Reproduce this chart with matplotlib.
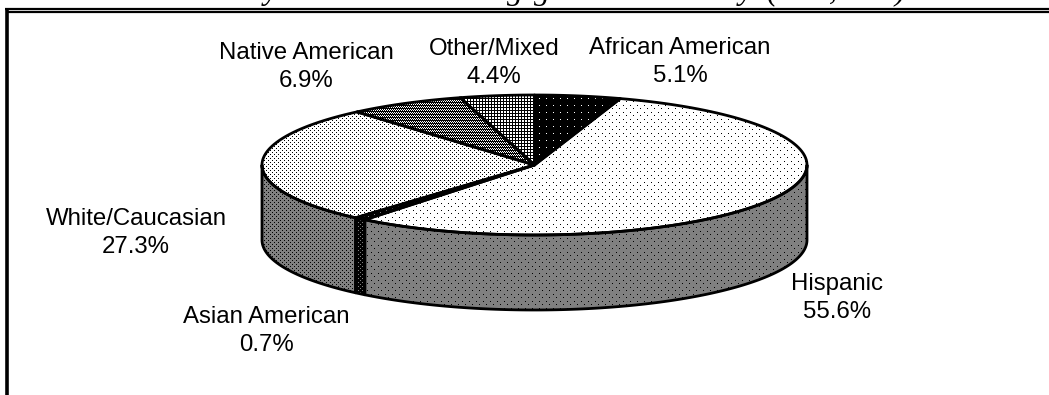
import numpy as np
import matplotlib
matplotlib.use('Agg')
import matplotlib.pyplot as plt
from matplotlib.patches import Polygon

categories = ['African American', 'Hispanic', 'Asian American',
              'White/Caucasian', 'Native American', 'Other/Mixed']
percent = [5.1, 55.6, 0.7, 27.3, 6.9, 4.4]

W, H = 1049, 395
CX, CY, RX, RY, DEPTH = 534.5, 165, 272.5, 70, 75

label_xy = [(680, 62), (837, 298), (266, 331), (136, 233), (306, 67), (494, 63)]

# fragments of the heading that stay on the page, the rest runs off the top
title_bits = ['y', 'g', 'g', 'y', '(', ',', ')']
title_x = [271, 515, 542, 746, 772, 833, 900]


def dots(bg, fg, step, stagger=True):
    # dot screen, one pixel dots on a plain ground
    t = np.full((step, step), bg, dtype=float)
    t[0, 0] = fg
    if stagger:
        t[step // 2, step // 2] = fg
    return t


def canvas(tile):
    ny = H // tile.shape[0] + 1
    nx = W // tile.shape[1] + 1
    return np.tile(tile, (ny, nx))[:H, :W]


native_tile = np.array([[0, 0, 0, 0], [1, 0, 1, 0], [0, 1, 0, 1]], dtype=float)
other_tile = np.array([[1, 1, 0], [1, 1, 0], [0, 0, 0]], dtype=float)

top_tiles = [dots(0, 1, 7, stagger=False), dots(1, 0, 7), dots(0, 0.5, 4),
             dots(1, 0, 4), native_tile, other_tile]
side_tiles = [None, dots(0.5, 0, 7), dots(0, 0.5, 4), dots(0.5, 0, 4), None, None]

# clockwise angles from twelve o'clock, from the percentages
edges = np.radians(np.concatenate([[0], np.cumsum(percent)]) / sum(percent) * 360)


def rim(a, b, n=120):
    t = np.linspace(a, b, n)
    return CX + RX * np.sin(t), CY - RY * np.cos(t)


fig = plt.figure(figsize=(W / 100, H / 100), dpi=100)
ax = fig.add_axes([0, 0, 1, 1])
ax.set_xlim(0, W)
ax.set_ylim(H, 0)
ax.axis('off')


def fill(xs, ys, tile):
    poly = Polygon(np.column_stack([xs, ys]), closed=True, fc='none', ec='none')
    ax.add_patch(poly)
    im = ax.imshow(canvas(tile), cmap='gray', vmin=0, vmax=1, extent=(0, W, H, 0),
                   interpolation='nearest', aspect='auto', zorder=2)
    im.set_clip_path(poly)
    ax.add_patch(Polygon(np.column_stack([xs, ys]), closed=True, fc='none',
                         ec='black', lw=2.0, joinstyle='round', zorder=3))


# wall of the disc, only the front half shows
for i in range(len(percent)):
    a = max(edges[i], np.pi / 2)
    b = min(edges[i + 1], 3 * np.pi / 2)
    if a >= b:
        continue
    x, y = rim(a, b)
    fill(np.r_[x, x[::-1]], np.r_[y, y[::-1] + DEPTH], side_tiles[i])

# top face
for i in range(len(percent)):
    x, y = rim(edges[i], edges[i + 1])
    fill(np.r_[CX, x], np.r_[CY, y], top_tiles[i])

for name, val, (lx, ly) in zip(categories, percent, label_xy):
    ax.text(lx, ly, f'{name}\n{val}%', ha='center', va='center', fontsize=17.3,
            family='Liberation Sans', linespacing=1.33, color='black', zorder=5)

for s, x in zip(title_bits, title_x):
    ax.text(x, -1, s, ha='center', va='baseline', fontsize=23, style='italic',
            family='Liberation Serif', color='black', clip_on=False)

# double rule along the top, single rule down the left
ax.plot([5, W], [9.3, 9.3], color='black', lw=1.6, solid_capstyle='butt')
ax.plot([7, W], [12, 12], color='black', lw=1.6, solid_capstyle='butt')
ax.plot([7, 7], [9, H], color='black', lw=2.6, solid_capstyle='butt')

ax.set_xlim(0, W)
ax.set_ylim(H, 0)
fig.savefig('out.png', dpi=100)
